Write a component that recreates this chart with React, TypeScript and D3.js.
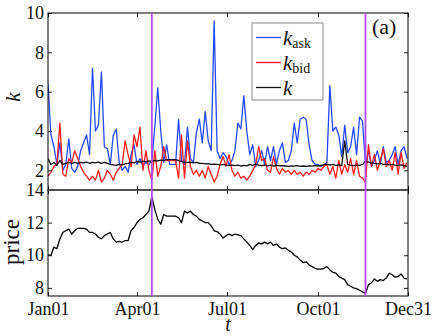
import React, { useEffect, useRef } from "react";
import * as d3 from "d3";

// sampled every 3 days from Jan01
const DAY_STEP = 3;

const kAsk = [
  6.4, 3.8, 3.2, 2.3, 3.4, 2.0, 2.3, 3.6, 2.1, 1.9, 2.2, 3.0, 3.4, 3.8, 2.8, 7.2,
  4.0, 4.3, 7.0, 3.2, 3.1, 2.3, 3.8, 4.1, 2.4, 2.0, 2.2, 1.9, 2.8, 3.3, 2.3, 2.6,
  2.2, 2.4, 2.3, 2.5, 4.2, 6.2, 4.0, 2.4, 3.3, 2.3, 2.3, 2.3, 4.6, 2.5, 2.3, 4.2,
  2.6, 2.4, 3.9, 4.6, 3.4, 5.0, 3.5, 3.0, 9.6, 3.0, 2.6, 2.9, 2.7, 2.3, 2.5, 3.0,
  4.4, 4.1, 5.8, 4.0, 2.8, 3.3, 2.2, 2.5, 3.0, 2.3, 3.2, 2.5, 3.2, 2.3, 3.0, 3.4,
  2.4, 2.5, 3.0, 4.4, 3.4, 4.6, 4.7, 4.6, 3.3, 2.5, 2.3, 2.3, 2.2, 2.3, 2.4, 6.3,
  4.0, 4.2, 3.8, 2.7, 4.3, 2.9, 3.2, 4.2, 2.8, 4.7, 4.5, 2.3, 3.0, 2.2, 2.5, 3.0,
  2.3, 3.2, 2.4, 2.5, 2.8, 3.2, 2.3, 3.0, 3.2, 2.6,
];

const kBid = [
  1.7, 1.9, 2.2, 2.3, 4.4, 1.8, 1.7, 2.6, 2.4, 3.0, 2.6, 2.2, 1.9, 1.7, 1.5, 1.7,
  1.5, 2.0, 1.4, 1.6, 2.0, 1.8, 1.5, 1.9, 2.1, 2.3, 3.5, 2.8, 2.2, 3.8, 3.2, 4.2,
  2.0, 3.0, 2.0, 1.5, 3.0, 1.7, 2.2, 3.2, 2.5, 2.5, 2.5, 2.5, 1.6, 3.8, 1.6, 3.5,
  2.2, 1.8, 2.0, 1.7, 2.0, 1.6, 2.2, 1.8, 1.4, 1.7, 2.3, 2.7, 2.2, 2.8, 2.0, 1.7,
  1.9, 1.6, 1.7, 1.5, 1.7, 2.0, 2.3, 3.2, 2.5, 2.6, 2.0, 1.9, 2.7, 2.1, 1.8, 2.1,
  1.9, 2.0, 1.8, 2.0, 1.8, 1.9, 1.7, 1.9, 1.8, 2.0, 1.9, 2.1, 2.0, 2.2, 2.3, 1.8,
  2.2, 1.6, 2.5, 1.8, 2.3, 1.9, 2.6, 1.8, 2.5, 1.7, 1.6, 1.4, 3.3, 2.2, 2.8, 2.0,
  2.5, 3.1, 2.2, 2.5, 2.0, 2.9, 1.8, 2.9, 2.1, 2.4,
];

const kAll = [
  2.6, 2.3, 2.4, 2.25, 2.5, 2.3, 2.35, 2.4, 2.35, 2.4, 2.35, 2.4, 2.38, 2.42, 2.36, 2.4,
  2.38, 2.42, 2.35, 2.4, 2.36, 2.3, 2.28, 2.25, 2.3, 2.28, 2.33, 2.35, 2.4, 2.38, 2.45, 2.42,
  2.47, 2.44, 2.48, 2.46, 2.5, 2.48, 2.52, 2.5, 2.54, 2.54, 2.54, 2.54, 2.5, 2.45, 2.42, 2.4,
  2.42, 2.38, 2.4, 2.36, 2.35, 2.33, 2.34, 2.3, 2.32, 2.3, 2.28, 2.3, 2.26, 2.25, 2.27, 2.24,
  2.26, 2.22, 2.25, 2.23, 2.3, 2.25, 2.32, 2.26, 2.24, 2.27, 2.23, 2.26, 2.22, 2.25, 2.23, 2.24,
  2.22, 2.2, 2.23, 2.21, 2.24, 2.2, 2.22, 2.2, 2.23, 2.21, 2.24, 2.22, 2.25, 2.28, 2.32, 2.26,
  2.3, 2.25, 2.28, 2.24, 3.5, 2.3, 2.26, 2.24, 2.27, 2.25, 2.3, 2.45, 2.42, 2.38, 2.35, 2.33,
  2.36, 2.3, 2.32, 2.28, 2.3, 2.27, 2.25, 2.28, 2.24, 2.2,
];

const price = [
  10.0, 10.0, 10.5, 10.4, 11.0, 11.4, 11.5, 11.6, 11.3, 11.5, 11.65, 11.65, 11.65, 11.6, 11.4, 11.4,
  11.3, 11.1, 11.0, 11.2, 11.3, 11.4, 11.0, 10.8, 10.85, 10.8, 10.9, 10.9, 11.5, 11.7, 12.0, 12.2,
  12.3, 12.5, 12.7, 13.6, 12.8, 12.2, 11.9, 12.5, 12.4, 12.4, 12.4, 12.4, 12.3, 12.0, 12.7, 12.6,
  12.7, 12.5, 12.4, 12.2, 12.1, 12.0, 12.0, 11.8, 11.5, 11.45, 11.3, 11.05, 11.2, 11.3, 11.2, 11.3,
  11.25, 11.2, 11.0, 10.8, 10.6, 10.35, 10.6, 10.75, 10.7, 10.8, 10.7, 10.8, 10.6, 10.7, 10.5, 10.4,
  10.45, 10.3, 10.2, 10.0, 9.9, 9.7, 9.55, 9.6, 9.4, 9.3, 9.2, 9.15, 9.15, 9.2, 9.3, 9.1,
  8.95, 8.9, 8.7, 8.6, 8.5, 8.2, 8.1, 8.0, 7.95, 7.85, 7.75, 7.65, 8.2, 8.3, 8.55, 8.4,
  8.5, 8.45, 8.6, 8.9, 8.8, 8.65, 8.7, 8.85, 8.6, 8.55,
];

const xTickDays = [0, 90, 181, 273, 364];
const xTickLabels = ["Jan01", "Apr01", "Jul01", "Oct01", "Dec31"];
const kTicks = [2, 4, 6, 8, 10];
const priceTicks = [8, 10, 12, 14];
const markerDays = [105, 321];

const series = [
  { name: "ask", values: kAsk, color: "#2348ff" },
  { name: "bid", values: kBid, color: "#ff1a1a" },
  { name: "", values: kAll, color: "#111111" },
];

export default function App() {
  const svgRef = useRef<SVGSVGElement>(null);
  const width = 436;
  const height = 336;

  useEffect(() => {
    const svg = d3.select(svgRef.current);
    svg.selectAll("*").remove();

    const left = 48, right = 408;
    const topY0 = 13, splitY = 190, botY1 = 296;
    const font = "Liberation Serif, Times New Roman, serif";

    const x = d3.scaleLinear().domain([0, 364]).range([left, right]);
    const yK = d3.scaleLinear().domain([1, 10]).range([splitY, topY0]);
    const yP = d3.scaleLinear().domain([7.5, 14]).range([botY1, splitY]);

    svg.append("rect").attr("width", width).attr("height", height).attr("fill", "white");

    const defs = svg.append("defs");
    defs.append("clipPath").attr("id", "clipTop").append("rect")
      .attr("x", left).attr("y", topY0).attr("width", right - left).attr("height", splitY - topY0);
    defs.append("clipPath").attr("id", "clipBot").append("rect")
      .attr("x", left).attr("y", splitY).attr("width", right - left).attr("height", botY1 - splitY);

    // k lines
    const gTop = svg.append("g").attr("clip-path", "url(#clipTop)");
    series.forEach(s => {
      const line = d3.line<number>()
        .x((_, i) => x(i * DAY_STEP))
        .y(d => yK(d));
      gTop.append("path")
        .attr("d", line(s.values))
        .attr("fill", "none")
        .attr("stroke", s.color)
        .attr("stroke-width", 1.3)
        .attr("stroke-linejoin", "round");
    });

    // price line
    const priceLine = d3.line<number>()
      .x((_, i) => x(i * DAY_STEP))
      .y(d => yP(d));
    svg.append("g").attr("clip-path", "url(#clipBot)")
      .append("path")
      .attr("d", priceLine(price))
      .attr("fill", "none")
      .attr("stroke", "#000")
      .attr("stroke-width", 1.3)
      .attr("stroke-linejoin", "round");

    // axes (inward ticks, MATLAB style)
    const intFmt = d3.format("d");
    const dateFmt = (d: d3.NumberValue, i: number) => xTickLabels[i];
    const addAxis = (axis: any, tx: number, ty: number, showLabels: boolean) => {
      const g = svg.append("g")
        .attr("transform", `translate(${tx},${ty})`)
        .call(axis)
        .attr("font-family", font);
      g.select(".domain").remove();
      g.selectAll("line").attr("stroke", "#222");
      g.selectAll("text")
        .attr("font-family", font)
        .attr("font-size", 18)
        .attr("fill", "#111")
        .style("display", showLabels ? null : "none");
      return g;
    };

    addAxis(d3.axisLeft(yK).tickValues(kTicks).tickFormat(intFmt).tickSize(-4).tickPadding(4), left, 0, true);
    addAxis(d3.axisRight(yK).tickValues(kTicks).tickSize(-4), right, 0, false);
    addAxis(d3.axisLeft(yP).tickValues(priceTicks).tickFormat(intFmt).tickSize(-4).tickPadding(4), left, 0, true);
    addAxis(d3.axisRight(yP).tickValues(priceTicks).tickSize(-4), right, 0, false);
    addAxis(d3.axisTop(x).tickValues(xTickDays).tickSize(-4), 0, topY0, false);
    addAxis(d3.axisBottom(x).tickValues(xTickDays).tickSize(-4), 0, splitY, false);
    addAxis(d3.axisTop(x).tickValues(xTickDays).tickSize(-4), 0, splitY, false);
    addAxis(d3.axisBottom(x).tickValues(xTickDays).tickSize(-4).tickPadding(6).tickFormat(dateFmt as any), 0, botY1, true);

    // panel boxes
    svg.append("rect")
      .attr("x", left).attr("y", topY0).attr("width", right - left).attr("height", splitY - topY0)
      .attr("fill", "none").attr("stroke", "#000").attr("stroke-width", 1);
    svg.append("rect")
      .attr("x", left).attr("y", splitY).attr("width", right - left).attr("height", botY1 - splitY)
      .attr("fill", "none").attr("stroke", "#000").attr("stroke-width", 1);
    svg.append("line")
      .attr("x1", left).attr("x2", right).attr("y1", splitY).attr("y2", splitY)
      .attr("stroke", "#555").attr("stroke-width", 1.6);

    // vertical markers
    markerDays.forEach(d => {
      svg.append("line")
        .attr("x1", x(d)).attr("x2", x(d))
        .attr("y1", topY0).attr("y2", botY1)
        .attr("stroke", "#b04cf5")
        .attr("stroke-width", 1.8);
    });

    // legend
    const lg = svg.append("g");
    lg.append("rect")
      .attr("x", 252).attr("y", 23).attr("width", 71).attr("height", 77)
      .attr("fill", "white").attr("stroke", "#8a8a8a").attr("stroke-width", 1);
    series.forEach((s, i) => {
      const cy = 37.5 + i * 25;
      lg.append("line")
        .attr("x1", 256).attr("x2", 281).attr("y1", cy).attr("y2", cy)
        .attr("stroke", s.color).attr("stroke-width", 1.3);
      const t = lg.append("text")
        .attr("x", 283).attr("y", cy + 7.5)
        .attr("font-family", font).attr("font-size", 21).attr("fill", "#111");
      t.append("tspan").attr("font-style", "italic").text("k");
      if (s.name) {
        t.append("tspan").attr("font-size", 14).attr("dy", 3).text(s.name);
      }
    });

    // panel tag
    svg.append("text")
      .attr("x", 372).attr("y", 34)
      .attr("font-family", font).attr("font-size", 22).attr("fill", "#111")
      .text("(a)");

    // axis titles
    svg.append("text")
      .attr("transform", "translate(20,97) rotate(-90)")
      .attr("text-anchor", "middle")
      .attr("font-family", font).attr("font-size", 22).attr("font-style", "italic")
      .attr("fill", "#111")
      .text("k");
    svg.append("text")
      .attr("transform", "translate(19,242) rotate(-90)")
      .attr("text-anchor", "middle")
      .attr("font-family", font).attr("font-size", 23)
      .attr("fill", "#111")
      .text("price");
    svg.append("text")
      .attr("x", 228).attr("y", 331)
      .attr("text-anchor", "middle")
      .attr("font-family", font).attr("font-size", 20).attr("font-style", "italic")
      .attr("fill", "#111")
      .text("t");
  }, []);

  return (
    <svg
      ref={svgRef}
      width={width}
      height={height}
      style={{ position: "absolute", left: 0, top: 0, display: "block" }}
    />
  );
}
